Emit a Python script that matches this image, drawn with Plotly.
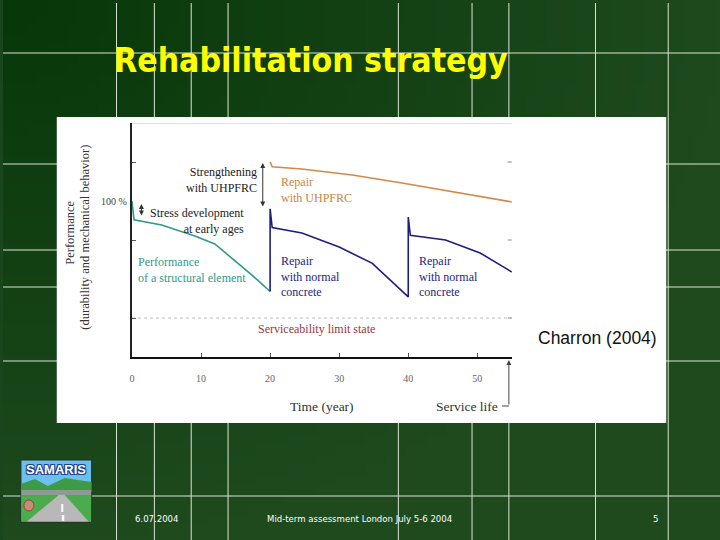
import base64, struct, zlib, math
import plotly.graph_objects as go

# ---------------- data ----------------
teal_x = [0, 0.3, 4.3, 9.1, 12.0, 14.9, 17.5, 20]
teal_y = [100, 88, 84.6, 77.6, 72.5, 62, 52, 42]

blue_x = [20, 20, 20.3, 24.6, 30, 34.8, 40, 40, 40.3, 45.4, 50.4, 55]
blue_y = [42, 95, 83, 79.5, 70.5, 60, 38.5, 89.7, 78, 75, 66.7, 54.5]

orange_x = [20, 20.3, 24.6, 31.9, 39.1, 46.4, 55]
orange_y = [125, 122, 120.5, 116.7, 111.5, 105.8, 99.4]

limit_x = [0, 55]
limit_y = [25, 25]

x_ticks = [0, 10, 20, 30, 40, 50]
x_ticklabels = ["0", "10", "20", "30", "40", "50"]
y_ticks = [25, 75, 125]

W, H = 720, 540
def px(x): return x / W
def py(y): return 1 - y / H

# ---------------- background gradient image ----------------
def make_png(w, h, func):
    raw = bytearray()
    for j in range(h):
        raw.append(0)
        for i in range(w):
            raw.extend(func(i / (w - 1), j / (h - 1)))
    def chunk(t, d):
        return struct.pack('>I', len(d)) + t + d + struct.pack('>I', zlib.crc32(t + d) & 0xffffffff)
    return (b'\x89PNG\r\n\x1a\n' + chunk(b'IHDR', struct.pack('>IIBBBBB', w, h, 8, 2, 0, 0, 0))
            + chunk(b'IDAT', zlib.compress(bytes(raw))) + chunk(b'IEND', b''))

dark = (8, 56, 10)
light = (30, 74, 30)
def grad(u, v):
    t = min(1.0, math.hypot(u, v))
    return bytes(int(dark[k] + (light[k] - dark[k]) * t) for k in range(3))

bg_uri = "data:image/png;base64," + base64.b64encode(make_png(72, 54, grad)).decode()

fig = go.Figure()

fig.add_trace(go.Scatter(x=limit_x, y=limit_y, mode="lines",
                         line=dict(color="#bdbdbd", width=1, dash="dot"), hoverinfo="skip"))
fig.add_trace(go.Scatter(x=teal_x, y=teal_y, mode="lines",
                         line=dict(color="#2f9a8c", width=1.6)))
fig.add_trace(go.Scatter(x=blue_x, y=blue_y, mode="lines",
                         line=dict(color="#1e1e80", width=1.6)))
fig.add_trace(go.Scatter(x=orange_x, y=orange_y, mode="lines",
                         line=dict(color="#d5884a", width=1.6)))

shapes = []
grid_col = "#d9e6d2"
for gx in [114, 152, 189, 226, 397, 471, 508, 595, 668]:
    shapes.append(dict(type="line", xref="paper", yref="paper", x0=px(gx), x1=px(gx),
                       y0=py(3), y1=0, line=dict(color=grid_col, width=1), layer="below"))
for gy in [53, 164, 250, 287, 361, 496]:
    shapes.append(dict(type="line", xref="paper", yref="paper", x0=0, x1=1,
                       y0=py(gy), y1=py(gy), line=dict(color=grid_col, width=1), layer="below"))
# white picture area
shapes.append(dict(type="rect", xref="paper", yref="paper", x0=px(54), x1=px(666),
                   y0=py(423), y1=py(117), fillcolor="white", line=dict(width=0), layer="below"))
# top frame line
shapes.append(dict(type="line", xref="x", yref="y", x0=0, x1=55, y0=150, y1=150,
                   line=dict(color="#c4c4c4", width=1)))
# right ticks
for yt in y_ticks:
    shapes.append(dict(type="line", xref="x", yref="y", x0=54.4, x1=55, y0=yt, y1=yt,
                       line=dict(color="#888", width=1)))
# service life connector
shapes.append(dict(type="line", xref="paper", yref="paper", x0=px(501), x1=px(508),
                   y0=py(406), y1=py(406), line=dict(color="#444", width=1)))

# ---------------- logo ----------------
lx0, lx1, ly0, ly1 = 18, 89, 460, 522
shapes.append(dict(type="rect", xref="paper", yref="paper", x0=px(lx0), x1=px(lx1),
                   y0=py(ly1), y1=py(ly0), fillcolor="#6cc0ec", line=dict(color="#2a2a2a", width=1)))
hill = "M {} {} L {} {} L {} {} L {} {} L {} {} L {} {} L {} {} Z".format(
    px(lx0), py(492), px(lx0), py(484), px(32), py(479), px(45), py(486),
    px(62), py(478), px(lx1), py(482), px(lx1), py(492))
shapes.append(dict(type="path", xref="paper", yref="paper", path=hill,
                   fillcolor="#3f9a48", line=dict(width=0)))
shapes.append(dict(type="rect", xref="paper", yref="paper", x0=px(lx0 + 0.5), x1=px(lx1 - 0.5),
                   y0=py(495), y1=py(490), fillcolor="#8f9a94", line=dict(width=0)))
shapes.append(dict(type="rect", xref="paper", yref="paper", x0=px(lx0 + 0.5), x1=px(lx1 - 0.5),
                   y0=py(ly1 - 0.5), y1=py(495), fillcolor="#4cab4c", line=dict(width=0)))
road = "M {} {} L {} {} L {} {} L {} {} Z".format(
    px(24), py(ly1 - 0.5), px(86), py(ly1 - 0.5), px(62), py(495), px(56), py(495))
shapes.append(dict(type="path", xref="paper", yref="paper", path=road,
                   fillcolor="#b8b8b8", line=dict(width=0)))
shapes.append(dict(type="rect", xref="paper", yref="paper", x0=px(58.5), x1=px(60.5),
                   y0=py(512), y1=py(504), fillcolor="white", line=dict(width=0)))
shapes.append(dict(type="rect", xref="paper", yref="paper", x0=px(59), x1=px(61.5),
                   y0=py(521), y1=py(515), fillcolor="white", line=dict(width=0)))
shapes.append(dict(type="circle", xref="paper", yref="paper", x0=px(21), x1=px(31),
                   y0=py(511), y1=py(500), fillcolor="#c98a78", line=dict(color="#8a4a3a", width=1)))

serif = "Liberation Serif"
ann = []
def A(text, x, y, xref="x", yref="y", size=12, color="#222", xanchor="left", align="left",
      family=serif, yanchor="middle", angle=0, **kw):
    d = dict(text=text, x=x, y=y, xref=xref, yref=yref, showarrow=False, xanchor=xanchor,
             yanchor=yanchor, align=align, textangle=angle,
             font=dict(family=family, size=size, color=color))
    d.update(kw)
    ann.append(d)

def xd(p): return (p - 129.5) / 6.945
def yd(p): return (357 - p) / 1.56

# in-chart labels
A("Strengthening<br>with UHPFRC", xd(257), yd(180), xanchor="right", align="right")
A("Repair<br>with UHPFRC", xd(277), yd(190), color="#c98443")
A("Stress development<br>at early ages", xd(244), yd(221), xanchor="right", align="right")
A("Performance<br>of a structural element", xd(134), yd(269.5), color="#2f9a8c")
A("Repair<br>with normal<br>concrete", xd(277), yd(276), color="#1e1e80")
A("Repair<br>with normal<br>concrete", xd(416), yd(276), color="#1e1e80")
A("Serviceability limit state", xd(315), yd(329), xanchor="center", color="#983838")

# arrows
def double_arrow(x, y0, y1):
    ann.append(dict(x=x, y=y0, ax=x, ay=y1, xref="x", yref="y", axref="x", ayref="y",
                    text="", showarrow=True, arrowhead=2, arrowsize=1, arrowwidth=1,
                    arrowside="end+start", arrowcolor="#333"))
double_arrow(xd(261), yd(163), yd(208))
double_arrow(xd(139), yd(204), yd(217))

# outside-plot labels (paper)
A("100 %", px(111), py(202), xref="paper", yref="paper", size=10, xanchor="center", color="#444")
A("Performance", px(67), py(233), xref="paper", yref="paper", size=12.5, xanchor="center",
  angle=-90, color="#333")
A("(durability and mechanical behavior)", px(82), py(237), xref="paper", yref="paper",
  size=12.5, xanchor="center", angle=-90, color="#333")
A("Time (year)", px(320), py(406), xref="paper", yref="paper", size=13.5, xanchor="center",
  color="#333")
A("Service life", px(499), py(406), xref="paper", yref="paper", size=13.5, xanchor="right",
  color="#333")
ann.append(dict(x=px(508), y=py(360), ax=0, ay=46, xref="paper", yref="paper",
                text="", showarrow=True, arrowhead=2, arrowsize=1, arrowwidth=1, arrowcolor="#444"))
A("Charron (2004)", px(597), py(338), xref="paper", yref="paper", size=17.5, xanchor="center",
  family="Liberation Sans", color="#111")

# slide texts
A("<b>Rehabilitation strategy</b>", px(109), py(60), xref="paper", yref="paper", size=33.5,
  family="DejaVu Sans Condensed, DejaVu Sans", color="#ffff00")
A("6.07.2004", px(131), py(518), xref="paper", yref="paper", size=9.5,
  family="DejaVu Sans Condensed, DejaVu Sans", color="#ffffff")
A("Mid-term assessment London July 5-6 2004", px(263), py(518), xref="paper", yref="paper",
  size=9.5, family="DejaVu Sans Condensed, DejaVu Sans", color="#ffffff")
A("5", px(655), py(518), xref="paper", yref="paper", size=9.5,
  family="DejaVu Sans Condensed, DejaVu Sans", color="#ffffff", xanchor="center")
A("<b>SAMARIS</b>", px(53.5), py(469), xref="paper", yref="paper", size=13,
  family="Liberation Sans", color="#ffffff", xanchor="center")
ann[-1]["font"]["shadow"] = "1px 1px 0 #1f3f8f, -1px -1px 0 #1f3f8f, 1px -1px 0 #1f3f8f, -1px 1px 0 #1f3f8f"

fig.update_layout(
    width=W, height=H, margin=dict(l=0, r=0, t=0, b=0),
    paper_bgcolor="#1a461c", plot_bgcolor="white", showlegend=False,
    images=[dict(source=bg_uri, xref="paper", yref="paper", x=0, y=1, sizex=1, sizey=1,
                 xanchor="left", yanchor="top", sizing="stretch", layer="below")],
    shapes=shapes, annotations=ann,
    xaxis=dict(domain=[px(129.5), px(511)], range=[0, 55], showgrid=False, zeroline=False,
               showline=True, linecolor="#111", linewidth=1.5,
               tickvals=x_ticks, ticktext=x_ticklabels, ticks="inside", ticklen=4,
               tickcolor="#555", ticklabelstandoff=11,
               tickfont=dict(family=serif, size=10, color="#666")),
    yaxis=dict(domain=[py(357), py(123)], range=[0, 150], showgrid=False, zeroline=False,
               showline=True, linecolor="#222", linewidth=1.5,
               tickvals=y_ticks, ticks="inside", ticklen=4, tickcolor="#555",
               showticklabels=False),
)

fig.write_html("out.html", config={"displayModeBar": False},
               post_script="document.body.style.margin='0';document.body.style.overflow='hidden';")
